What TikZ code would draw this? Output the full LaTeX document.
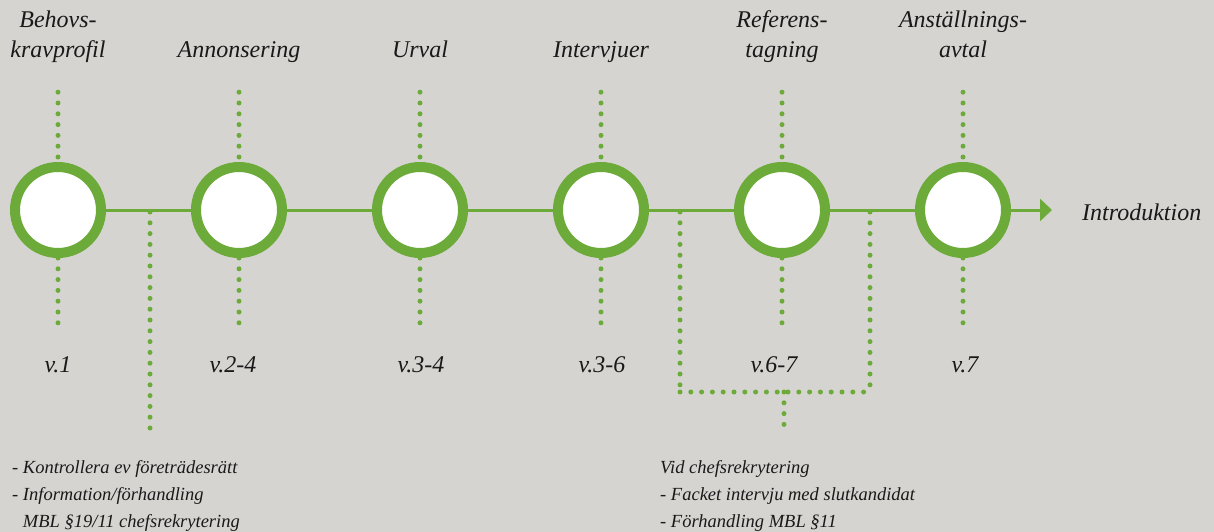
\documentclass[tikz,border=0pt]{standalone}
\usepackage{fontspec}
\setmainfont{Liberation Serif}
\usetikzlibrary{arrows.meta,positioning,calc}
\definecolor{stagegreen}{RGB}{108,170,57}
\definecolor{concrete}{RGB}{214,212,209}
\definecolor{ink}{RGB}{25,25,25}

\begin{document}
\begin{tikzpicture}[x=1pt,y=-1pt,
  stage/.style={circle, draw=stagegreen, line width=10pt, fill=white, minimum size=86pt, inner sep=0pt},
  dots/.style={stagegreen, line width=5pt, line cap=round, dash pattern=on 0pt off 10.8pt},
  link/.style={stagegreen, line width=3pt},
  steplabel/.style={text=ink, font=\fontsize{24}{30}\selectfont\itshape, align=center, inner sep=0pt, anchor=base},
  note/.style={text=ink, font=\fontsize{18.5}{27}\selectfont\itshape, align=left, inner sep=0pt, anchor=base west}]

\fill[concrete] (0,0) rectangle (1214,532);
\useasboundingbox (0,0) rectangle (1214,532);

% stages on the time line
\foreach \i/\x/\name/\wx/\week in {0/58/{Behovs-\\kravprofil}/58/v.1, 1/239/Annonsering/233/v.2-4,
    2/420/Urval/421/v.3-4, 3/601/Intervjuer/602/v.3-6, 4/782/{Referens-\\tagning}/774/v.6-7,
    5/963/{Anställnings-\\avtal}/965/v.7}{
  \node[stage] (s\i) at (\x,210) {};
  \node[steplabel] (t\i) at (\x,58) {\name};
  \node[steplabel] (w\i) at (\wx,372) {\week};
  \draw[dots] ($(s\i.north)+(0,-5)$) -- +(0,-65);
  \draw[dots] (s\i.south) -- +(0,65);
}
\foreach \i in {0,...,4}{
  \pgfmathtruncatemacro{\j}{\i+1}
  \draw[link] (s\i) -- (s\j);
}

\node[steplabel, anchor=base west] (intro) at (1082,220) {Introduktion};
\coordinate (tip) at (1052,210);
\draw[link, -{Triangle[length=12pt,width=22pt]}] (s5) -- (tip);

% MBL stems
\coordinate (k0) at (150,212);
\coordinate (k1) at (150,430);
\draw[dots] (k0) -- (k1);

\coordinate (ra) at (680,212);
\coordinate (rb) at (680,392);
\coordinate (rc) at (870,392);
\coordinate (rd) at (870,212);
\coordinate (rm) at (784,392);
\coordinate (rn) at (784,430);
\draw[dots] (ra) -- (rb);
\draw[dots] (rd) -- (rc);
\draw[dots] (rb) -- (rc);
\draw[dots] (rm) -- (rn);

\node[note] (n0) at (12,527) {- Kontrollera ev företrädesrätt\\- Information/förhandling\\\phantom{- }MBL §19/11 chefsrekrytering};
\node[note] (n1) at (660,527) {Vid chefsrekrytering\\- Facket intervju med slutkandidat\\- Förhandling MBL §11};
\end{tikzpicture}
\end{document}
